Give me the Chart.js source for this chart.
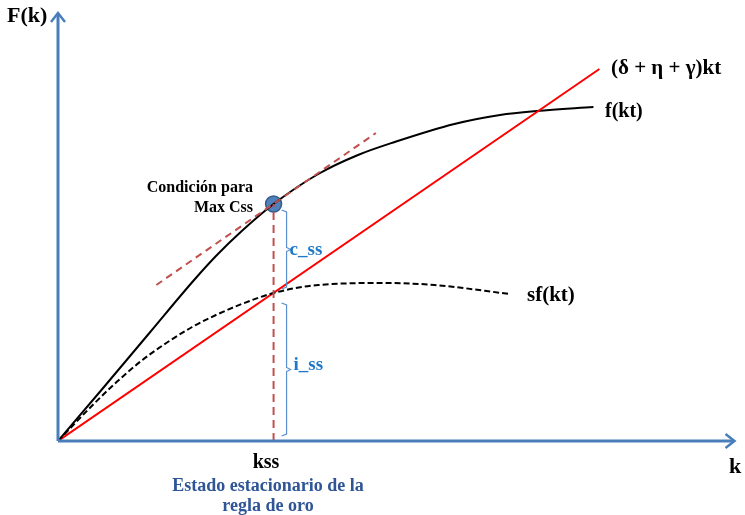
<!DOCTYPE html>
<html>
<head>
<meta charset="utf-8">
<script src="https://cdn.jsdelivr.net/npm/chart.js@4"></script>
<style>
  html, body { margin: 0; padding: 0; background: #fff; }
  #wrap { width: 745px; height: 515px; }
</style>
</head>
<body>
<div id="wrap"><canvas id="chart"></canvas></div>
<script>
// regla de oro - diagrama de Solow

// f(kt)
const fX = [0, 42, 92, 137, 160, 185, 217, 262, 302, 339, 399, 445, 482, 539]
const fY = [0, 49, 108, 161, 186, 210, 237, 267, 286, 299, 317, 326, 330, 334]
// sf(kt)
const sfX = [0, 35, 59, 85, 109, 135, 159, 185, 217, 262, 329, 379, 455]
const sfY = [0, 36, 59, 81, 98, 114, 126, 137, 148, 156, 158, 156, 147]
// (δ + η + γ)kt
const depX = [0, 545]
const depY = [0, 372]
// tangente en el punto de oro
const tanX = [99, 320]
const tanY = [156, 308]
// kss
const kss = 217
const fKss = 237
const sfKss = 148

const pts = (xs, ys) => xs.map((x, i) => ({x: x, y: ys[i]}))

const axisColor = '#4a7ebb'
const blue = '#1f78c8'
const serif = '"Liberation Serif", "Times New Roman", serif'

const extras = {
  id: 'extras',
  afterDraw(chart) {
    const c = chart.ctx
    const sx = chart.scales.x, sy = chart.scales.y
    const X = v => sx.getPixelForValue(v)
    const Y = v => sy.getPixelForValue(v)
    const ox = X(0), oy = Y(0)
    c.save()
    // ejes con flechas
    c.strokeStyle = axisColor
    c.lineWidth = 3
    c.beginPath()
    c.moveTo(ox, oy); c.lineTo(chart.chartArea.right - 2, oy)
    c.moveTo(ox, oy); c.lineTo(ox, chart.chartArea.top + 2)
    c.stroke()
    c.lineWidth = 2.5
    c.beginPath()
    const r = chart.chartArea.right - 1
    c.moveTo(r - 9, oy - 7); c.lineTo(r, oy); c.lineTo(r - 9, oy + 7)
    const t = chart.chartArea.top + 1
    c.moveTo(ox - 7, t + 9); c.lineTo(ox, t); c.lineTo(ox + 7, t + 9)
    c.stroke()

    // llaves
    function brace(x, yTop, yBot) {
      const ym = (yTop + yBot) / 2
      c.strokeStyle = '#5b8fd0'
      c.lineWidth = 1.2
      c.beginPath()
      c.moveTo(x - 5, yTop); c.lineTo(x, yTop + 2); c.lineTo(x, ym - 2)
      c.lineTo(x + 4, ym); c.lineTo(x, ym + 2); c.lineTo(x, yBot - 2)
      c.lineTo(x - 5, yBot)
      c.stroke()
    }
    const bx = X(kss) + 13
    brace(bx, Y(fKss) + 6, Y(sfKss) - 4)
    brace(bx, Y(sfKss) + 10, oy - 5)

    // textos
    c.textBaseline = 'middle'
    c.fillStyle = '#000'
    c.textAlign = 'left'
    c.font = 'bold 22px ' + serif
    c.fillText('F(k)', 7, 16)
    c.fillText('k', 729, 467)
    c.font = 'bold 21px ' + serif
    c.fillText('(δ + η + γ)kt', 611, 69)
    c.font = 'bold 20px ' + serif
    c.fillText('f(kt)', 605, 112)
    c.font = 'bold 21px ' + serif
    c.fillText('sf(kt)', 527, 296)
    c.font = 'bold 16px ' + serif
    c.textAlign = 'right'
    c.fillText('Condición para', 253, 188)
    c.fillText('Max Css', 253, 208)
    c.textAlign = 'left'
    c.fillStyle = blue
    c.font = 'bold 19px ' + serif
    c.fillText('c_ss', bx + 3, 250)
    c.fillText('i_ss', bx + 7, 365)
    c.textAlign = 'center'
    c.fillStyle = '#000'
    c.font = 'bold 20px ' + serif
    c.fillText('kss', 266, 463)
    c.fillStyle = '#2f5597'
    c.font = 'bold 18px ' + serif
    c.fillText('Estado estacionario de la', 268, 486)
    c.fillText('regla de oro', 268, 506)
    c.restore()
  }
}

new Chart(document.getElementById('chart'), {
  type: 'scatter',
  data: {
    datasets: [
      {
        label: 'kss',
        data: [{x: kss, y: 0}, {x: kss, y: fKss}],
        showLine: true,
        borderColor: '#c0504d',
        borderWidth: 2,
        borderDash: [8, 5],
        pointRadius: 0
      },
      {
        label: 'tangente',
        data: pts(tanX, tanY),
        showLine: true,
        borderColor: '#c0504d',
        borderWidth: 2,
        borderDash: [7, 5],
        pointRadius: 0
      },
      {
        label: 'sf(kt)',
        data: pts(sfX, sfY),
        showLine: true,
        borderColor: '#000',
        borderWidth: 2,
        borderDash: [6, 3],
        cubicInterpolationMode: 'monotone',
        pointRadius: 0
      },
      {
        label: '(δ + η + γ)kt',
        data: pts(depX, depY),
        showLine: true,
        borderColor: '#ff0000',
        borderWidth: 2,
        pointRadius: 0
      },
      {
        label: 'f(kt)',
        data: pts(fX, fY),
        showLine: true,
        borderColor: '#000',
        borderWidth: 2,
        cubicInterpolationMode: 'monotone',
        pointRadius: 0
      },
      {
        label: 'Max Css',
        data: [{x: kss, y: fKss}],
        backgroundColor: '#4f81bd',
        borderColor: '#385d8a',
        borderWidth: 1.5,
        pointRadius: 8
      }
    ]
  },
  options: {
    responsive: true,
    maintainAspectRatio: false,
    animation: false,
    layout: { padding: { left: 58, top: 12, right: 5, bottom: 74 } },
    plugins: { legend: { display: false }, tooltip: { enabled: false } },
    scales: {
      x: { type: 'linear', min: 0, max: 682, display: false },
      y: { type: 'linear', min: 0, max: 429, display: false }
    }
  },
  plugins: [extras]
})
</script>
</body>
</html>
